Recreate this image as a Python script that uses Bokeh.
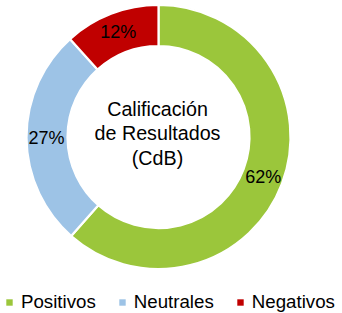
import numpy as np
from bokeh.plotting import figure
from bokeh.models import Range1d, Legend, LegendItem, ColumnDataSource
from bokeh.core.properties import value
from bokeh.embed import file_html
from bokeh.resources import INLINE

categories = ["Positivos", "Neutrales", "Negativos"]
shares = [61.5, 26.8, 11.7]
labels = ["62%", "27%", "12%"]
colors = ["#9BC63B", "#9DC3E6", "#C00000"]
center_lines = ["Calificación", "de Resultados", "(CdB)"]

W, H = 342, 313
CX, CY = 158, 136.5  # pixel centre of donut (from top-left)
R_OUT, R_IN = 132, 91
R_LAB = 112
FONT = "Liberation Sans"

frac = np.array(shares) / np.sum(shares)
cum = np.concatenate([[0], np.cumsum(frac)])
start = np.pi / 2 - cum[:-1] * 2 * np.pi
end = np.pi / 2 - cum[1:] * 2 * np.pi
mid = (start + end) / 2

src = ColumnDataSource(dict(start=start, end=end, color=colors, cat=categories,
                            lx=R_LAB * np.cos(mid), ly=R_LAB * np.sin(mid), lab=labels))

p = figure(width=W, height=H, output_backend="svg", toolbar_location=None,
           x_range=Range1d(-CX, W - CX), y_range=Range1d(-(H - CY), CY),
           min_border=0, outline_line_color=None)
p.axis.visible = False
p.grid.visible = False
p.background_fill_color = "white"
p.border_fill_color = "white"

base = p.annular_wedge(x=0, y=0, inner_radius=R_IN, outer_radius=R_OUT,
                       start_angle="start", end_angle="end", direction="clock",
                       fill_color="color", line_color=None, source=src)
p.annular_wedge(x=0, y=0, inner_radius=R_IN, outer_radius=R_OUT,
                start_angle="start", end_angle="end", direction="clock",
                fill_color="color", line_color="white", line_width=2.2, source=src)

p.text(x="lx", y="ly", text="lab", source=src, text_align="center",
       text_baseline="middle", text_font=value(FONT), text_font_size="18px",
       text_color="black")

line_h = 24.5
n = len(center_lines)
cy = [(4 - (i - (n - 1) / 2) * line_h) for i in range(n)]
p.text(x=[-1] * n, y=cy, text=center_lines, text_align="center",
       text_baseline="middle", text_font=value(FONT), text_font_size="19.7px",
       text_color="black")

items = [LegendItem(label=cat, renderers=[base], index=i)
         for i, cat in enumerate(categories)]

legend = Legend(items=items, orientation="horizontal", location=(5, 0),
                glyph_width=8, glyph_height=8, label_standoff=8, spacing=22,
                label_text_font=FONT, label_text_font_size="18.7px",
                label_text_color="black", padding=0, margin=0,
                border_line_color=None, background_fill_alpha=0, label_height=16)
p.add_layout(legend)

open("out.html", "w").write(file_html(p, INLINE))
